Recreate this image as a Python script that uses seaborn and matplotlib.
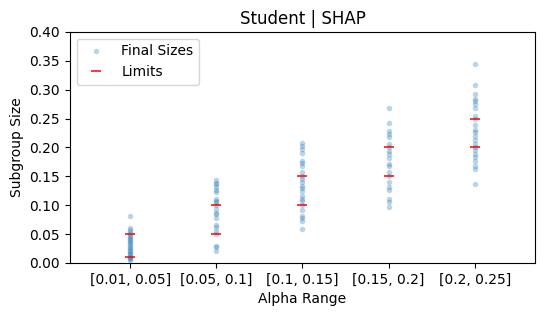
import numpy as np
import pandas as pd
import matplotlib
matplotlib.use("Agg")
import matplotlib.pyplot as plt
from matplotlib.lines import Line2D
import seaborn as sns

categories = ["[0.01, 0.05]", "[0.05, 0.1]", "[0.1, 0.15]", "[0.15, 0.2]", "[0.2, 0.25]"]

sizes_1 = [0.081, 0.061, 0.057, 0.053, 0.050, 0.047, 0.045, 0.042, 0.039, 0.036, 0.034, 0.031,
           0.028, 0.025, 0.022, 0.020, 0.017, 0.015, 0.013, 0.011, 0.009, 0.007, 0.005]
sizes_2 = [0.143, 0.139, 0.136, 0.132, 0.126, 0.123, 0.110, 0.108, 0.106, 0.100, 0.094, 0.087,
           0.085, 0.077, 0.065, 0.063, 0.056, 0.050, 0.030, 0.028, 0.020]
sizes_3 = [0.208, 0.203, 0.197, 0.191, 0.177, 0.173, 0.168, 0.158, 0.150, 0.145, 0.140, 0.134,
           0.130, 0.125, 0.116, 0.111, 0.107, 0.100, 0.092, 0.082, 0.077, 0.072, 0.059]
sizes_4 = [0.268, 0.242, 0.228, 0.224, 0.218, 0.206, 0.200, 0.194, 0.188, 0.181, 0.172, 0.167,
           0.158, 0.150, 0.140, 0.132, 0.126, 0.110, 0.106, 0.096]
sizes_5 = [0.345, 0.308, 0.293, 0.284, 0.280, 0.275, 0.269, 0.254, 0.250, 0.238, 0.231, 0.226,
           0.219, 0.212, 0.206, 0.200, 0.195, 0.188, 0.183, 0.177, 0.167, 0.162, 0.136]

lower_limits = [0.01, 0.05, 0.10, 0.15, 0.20]
upper_limits = [0.05, 0.10, 0.15, 0.20, 0.25]

all_sizes = [sizes_1, sizes_2, sizes_3, sizes_4, sizes_5]
df = pd.DataFrame({
    "alpha": [c for c, s in zip(categories, all_sizes) for _ in s],
    "size": [v for s in all_sizes for v in s],
})
lim_df = pd.DataFrame({
    "alpha": categories + categories,
    "limit": lower_limits + upper_limits,
})

fig = plt.figure(figsize=(5.45, 3.16), dpi=100)
ax = fig.add_axes([0.128, 0.168, 0.854, 0.731])

sns.stripplot(data=df, x="alpha", y="size", order=categories, jitter=False,
              color="#1f77b4", alpha=0.3, size=4.0, linewidth=0, ax=ax)
sns.scatterplot(data=lim_df, x="alpha", y="limit", marker="_", color="red",
                s=45, linewidth=1.1, ax=ax, zorder=3)

ax.set_ylim(0, 0.4)
ax.set_xlim(-0.7, 4.7)
ax.set_yticks(np.arange(0, 0.41, 0.05))
ax.set_yticklabels([f"{v:.2f}" for v in np.arange(0, 0.41, 0.05)])
ax.set_xlabel("Alpha Range")
ax.set_ylabel("Subgroup Size")
ax.set_title("Student | SHAP")

handles = [
    Line2D([], [], marker="o", ls="", color="#1f77b4", alpha=0.3, ms=4.0, mew=0),
    Line2D([], [], marker="_", ls="", color="red", ms=6.5, mew=1.1),
]
ax.legend(handles, ["Final Sizes", "Limits"], loc="upper left")

fig.savefig("out.png", dpi=100)
